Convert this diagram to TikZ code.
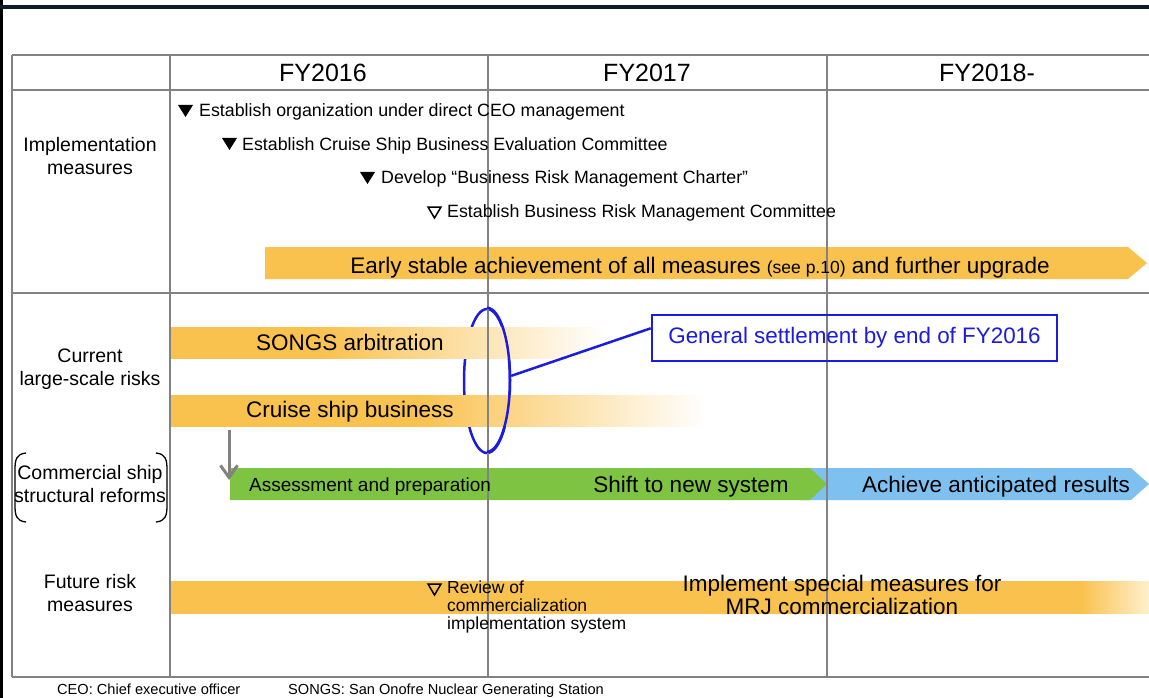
\documentclass[tikz,border=0pt]{standalone}
\usepackage{fontspec}
\setmainfont{Liberation Sans}
\usetikzlibrary{arrows.meta,shapes.geometric,calc}

\definecolor{barorange}{RGB}{249,193,78}
\definecolor{barpale}{RGB}{254,240,205}
\definecolor{bargreen}{RGB}{126,196,66}
\definecolor{barblue}{RGB}{126,192,240}
\definecolor{gridgray}{RGB}{130,130,130}
\definecolor{markblue}{RGB}{28,28,222}
\definecolor{topnavy}{RGB}{14,28,44}

% orange bars that fade out to the right
\pgfdeclarehorizontalshading{fadesongs}{100bp}{color(0bp)=(barorange); color(42bp)=(barorange); color(75bp)=(white); color(100bp)=(white)}
\pgfdeclarehorizontalshading{fadecruise}{100bp}{color(0bp)=(barorange); color(48bp)=(barorange); color(75bp)=(white); color(100bp)=(white)}
\pgfdeclarehorizontalshading{fadefuture}{100bp}{color(0bp)=(barorange); color(71.5bp)=(barorange); color(75bp)=(barpale); color(100bp)=(barpale)}

\tikzset{
  gridline/.style={draw=gridgray, line width=1.5pt},
  hdr/.style={font=\fontsize{25}{30}\selectfont, anchor=base},
  rowlbl/.style={font=\fontsize{19.5}{23}\selectfont, align=center, anchor=base},
  item/.style={font=\fontsize{17.8}{22}\selectfont, anchor=base west, inner sep=0pt},
  bartxt/.style={font=\fontsize{22.5}{26}\selectfont, anchor=base, inner sep=0pt},
  smalltxt/.style={font=\fontsize{19}{22}\selectfont, anchor=base west, inner sep=0pt},
  reviewtxt/.style={font=\fontsize{17.5}{18}\selectfont, anchor=base west, inner sep=0pt, align=left},
  mrjtxt/.style={font=\fontsize{22.5}{23}\selectfont, anchor=base, inner sep=0pt, align=center},
  foot/.style={font=\fontsize{14.6}{16}\selectfont, anchor=base west, inner sep=0pt},
  blueline/.style={draw=markblue, line width=2.5pt},
  solidtri/.style={fill=black},
  opentri/.style={draw=black, line width=1.5pt, line join=miter},
}

\begin{document}
\begin{tikzpicture}[x=1pt,y=-1pt]
\useasboundingbox (0,0) rectangle (1149,698);
\fill[white] (0,0) rectangle (1149,698);

% page frame
\draw[black, line width=3pt] (1.5,0) -- (1.5,698);
\draw[topnavy, line width=4pt] (0,7) -- (1149,7);

% settlement ellipse (its left side sits behind the bars)
\node[ellipse, blueline, minimum width=46pt, minimum height=144pt, inner sep=0pt] (ell) at (487,381) {};

% bars
\fill[barorange] (265,247) -- (1128,247) -- (1147,263) -- (1128,279) -- (265,279) -- cycle;
\shade[shading=fadesongs] (170,327) rectangle (606,358);
\shade[shading=fadecruise] (170,395) rectangle (706,426);
\fill[barblue] (800,468) -- (1131,468) -- (1149,484) -- (1131,500) -- (800,500) -- cycle;
\fill[bargreen] (230,468) -- (810,468) -- (827,484) -- (810,500) -- (230,500) -- cycle;
\shade[shading=fadefuture] (170,581) rectangle (1149,613);

% table grid
\draw[gridline] (12,55) -- (1149,55);
\draw[gridline] (12,90) -- (1149,90);
\draw[gridline] (12,293) -- (1149,293);
\draw[gridline] (12,677) -- (1149,677);
\draw[gridline] (12,55) -- (12,677);
\draw[gridline] (170,55) -- (170,677);
\draw[gridline] (488,55) -- (488,677);
\draw[gridline] (827,55) -- (827,677);

% column headers
\node[hdr] (h16) at (323,82) {FY2016};
\node[hdr] (h17) at (647,82) {FY2017};
\node[hdr] (h18) at (987,82) {FY2018-};

% row labels (anchored on the baseline of their last line)
\node[rowlbl] (l1) at (90,175) {Implementation\\measures};
\node[rowlbl] (l2) at (90,385) {Current\\large-scale risks};
\node[rowlbl] (l3) at (90,502) {Commercial ship\\structural reforms};
\node[rowlbl] (l4) at (90,611) {Future risk\\measures};
\draw[black, line width=1.3pt] (26,453) .. controls (16,454) and (15,460) .. (15,470) -- (15,505) .. controls (15,515) and (16,521) .. (26,522);
\draw[black, line width=1.3pt] (156,453) .. controls (166,454) and (167,460) .. (167,470) -- (167,505) .. controls (167,515) and (166,521) .. (156,522);

% implementation milestones
\fill[solidtri] (178,105) -- (193,105) -- (185.5,117) -- cycle;
\node[item] (m1) at (199,117) {Establish organization under direct CEO management};
\fill[solidtri] (222,138) -- (237,138) -- (229.5,150) -- cycle;
\node[item] (m2) at (242,150) {Establish Cruise Ship Business Evaluation Committee};
\fill[solidtri] (360,172) -- (375,172) -- (367.5,184) -- cycle;
\node[item] (m3) at (381,184) {Develop “Business Risk Management Charter”};
\draw[opentri] (428,207) -- (441,207) -- (434.5,218) -- cycle;
\node[item] (m4) at (447,218) {Establish Business Risk Management Committee};

% bar texts
\node[bartxt] (t1) at (700,273) {Early stable achievement of all measures {\fontsize{17.5}{20}\selectfont (see p.10)} and further upgrade};
\node[bartxt] (t2) at (350,350) {SONGS arbitration};
\node[bartxt] (t3) at (350,417) {Cruise ship business};
\node[smalltxt] (t4) at (249,491) {Assessment and preparation};
\node[bartxt] (t5) at (691,492) {Shift to new system};
\node[bartxt] (t6) at (996,492) {Achieve anticipated results};

% structural reform trigger
\coordinate (arrA) at (229,430);
\coordinate (arrB) at (229,480);
\draw[gridgray, line width=3pt, -{Straight Barb[length=12pt,width=17pt,line width=3pt]}] (arrA) -- (arrB);

% future risk measures
\draw[opentri] (428,584) -- (441,584) -- (434.5,595) -- cycle;
\node[reviewtxt] (rev) at (447,629) {Review of\\commercialization\\implementation system};
\node[mrjtxt] (mrj) at (842,614) {Implement special measures for\\MRJ commercialization};

% settlement callout
\node[blueline, text=markblue, font=\fontsize{22.4}{26}\selectfont, minimum width=405pt, minimum height=46pt, inner sep=0pt] (box) at (854.5,338) {General settlement by end of FY2016};
\draw[blueline] (ell.north) arc[start angle=90, end angle=-90, x radius=23pt, y radius=72pt];
\draw[blueline] (ell.12) -- ($(box.north west)!0.3!(box.south west)$);

% footnotes
\node[foot] (f1) at (57,694) {CEO: Chief executive officer};
\node[foot] (f2) at (288,694) {SONGS: San Onofre Nuclear Generating Station};
\end{tikzpicture}
\end{document}
